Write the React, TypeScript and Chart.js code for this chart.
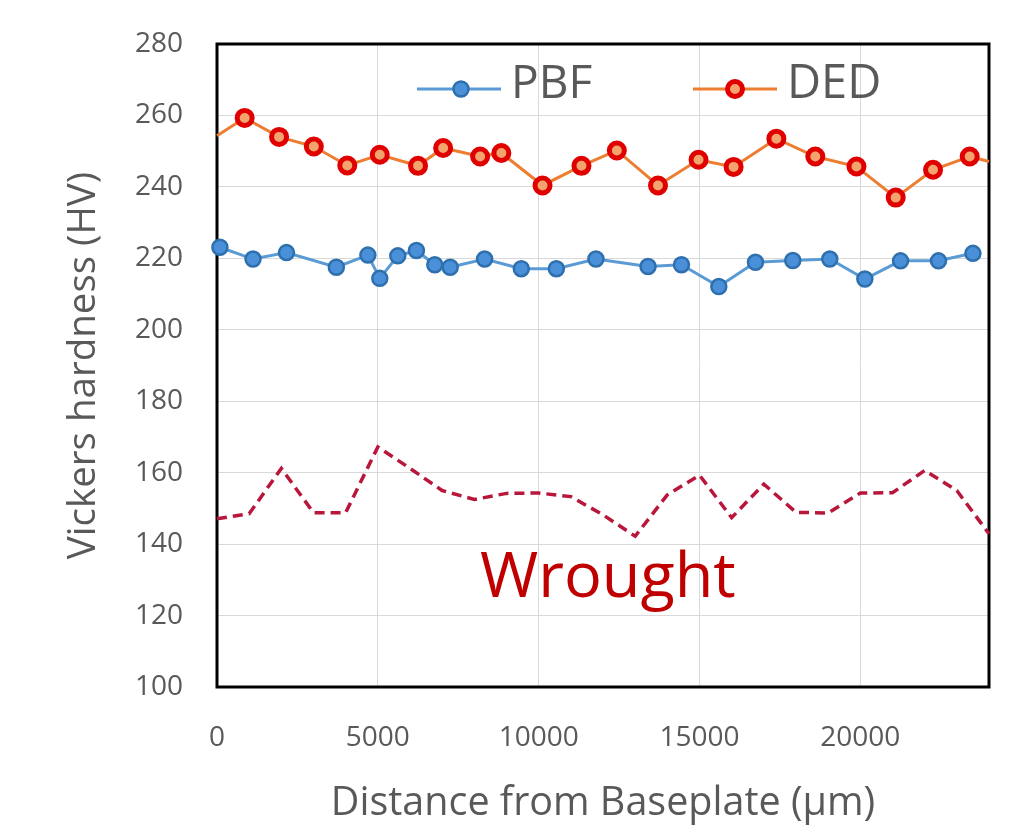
import React, { useEffect, useRef } from "react";
import { Chart, registerables } from "chart.js";

Chart.register(...registerables);

// ---- data ----
const pbfX = [90, 1120, 2160, 3710, 4690, 5060, 5620, 6200, 6770, 7250, 8320, 9460, 10550, 11780, 13400, 14440, 15600, 16740, 17900, 19050, 20140, 21250, 22430, 23500];
const pbfY = [223.1, 219.8, 221.6, 217.5, 220.9, 214.4, 220.7, 222.2, 218.2, 217.5, 219.8, 217.1, 217.1, 219.8, 217.7, 218.2, 212.1, 218.9, 219.4, 219.8, 214.2, 219.3, 219.3, 221.4];

const dedX = [0, 860, 1930, 3010, 4050, 5060, 6250, 7030, 8180, 8840, 10120, 11330, 12430, 13710, 14970, 16060, 17390, 18600, 19880, 21100, 22260, 23400, 24000];
const dedY = [254.3, 259.3, 254.0, 251.3, 246.0, 249.0, 245.9, 250.9, 248.5, 249.5, 240.4, 245.9, 250.2, 240.4, 247.6, 245.6, 253.5, 248.5, 245.7, 237.0, 244.8, 248.5, 247.1];

const wroughtX = [0, 1000, 2000, 3000, 4000, 5000, 6000, 7000, 8000, 9000, 10000, 11000, 12000, 13000, 14000, 15000, 16000, 17000, 18000, 19000, 20000, 21000, 22000, 23000, 24000];
const wroughtY = [147.1, 148.5, 161.2, 148.8, 148.8, 167.2, 161.2, 155.0, 152.5, 154.2, 154.3, 153.3, 148.2, 142.2, 153.8, 159.3, 147.4, 156.8, 148.9, 148.7, 154.3, 154.4, 160.6, 155.0, 142.9];

const xTickValues = [0, 5000, 10000, 15000, 20000];
const yMin = 100;
const yMax = 280;
const yStep = 20;
const xMin = 0;
const xMax = 24000;

const seriesNames = ["PBF", "DED", "Wrought"];
const xTitle = "Distance from Baseplate (µm)";
const yTitle = "Vickers hardness (HV)";
const annotationText = "Wrought";

const FONT = "'Open Sans', 'Noto Sans', sans-serif";
const GRAY = "#595959";

const PBF_LINE = "#5b9bd5";
const PBF_FILL = "#4a90d9";
const PBF_EDGE = "#2e6fae";
const DED_LINE = "#ed7d31";
const DED_FILL = "#f2a36e";
const DED_EDGE = "#e00000";
const WROUGHT = "#b8163a";

const toPoints = (xs: number[], ys: number[]) => xs.map((x, i) => ({ x, y: ys[i] }));

const framePlugin = {
  id: "frame",
  beforeDatasetsDraw(chart: any) {
    const { ctx, chartArea: a } = chart;
    ctx.save();
    ctx.strokeStyle = "#000000";
    ctx.lineWidth = 3;
    ctx.strokeRect(a.left, a.top, a.right - a.left, a.bottom - a.top);
    ctx.restore();
  },
};

const overlayPlugin = {
  id: "overlay",
  afterDraw(chart: any) {
    const { ctx } = chart;
    ctx.save();
    // legend
    const items = [
      { name: seriesNames[0], x0: 417, x1: 501, mx: 461, tx: 511, line: PBF_LINE, fill: PBF_FILL, edge: PBF_EDGE, r: 7.5, bw: 2.5, size: 46 },
      { name: seriesNames[1], x0: 693, x1: 777, mx: 735, tx: 787, line: DED_LINE, fill: DED_FILL, edge: DED_EDGE, r: 7.5, bw: 5, size: 47 },
    ];
    const ly = 89;
    for (const it of items) {
      ctx.strokeStyle = it.line;
      ctx.lineWidth = 3;
      ctx.beginPath();
      ctx.moveTo(it.x0, ly);
      ctx.lineTo(it.x1, ly);
      ctx.stroke();
      ctx.beginPath();
      ctx.arc(it.mx, ly, it.r, 0, Math.PI * 2);
      ctx.fillStyle = it.fill;
      ctx.fill();
      ctx.lineWidth = it.bw;
      ctx.strokeStyle = it.edge;
      ctx.stroke();
      ctx.fillStyle = GRAY;
      ctx.font = `${it.size}px ${FONT}`;
      ctx.textBaseline = "alphabetic";
      ctx.textAlign = "left";
      ctx.fillText(it.name, it.tx, 98);
    }
    // Wrought label
    ctx.fillStyle = "#c00000";
    ctx.font = `63px ${FONT}`;
    ctx.textAlign = "left";
    ctx.textBaseline = "alphabetic";
    ctx.fillText(annotationText, 480, 597);
    ctx.restore();
  },
};

export default function App() {
  const ref = useRef<HTMLCanvasElement | null>(null);

  useEffect(() => {
    if (!ref.current) return;
    const chart = new Chart(ref.current, {
      type: "line",
      data: {
        datasets: [
          {
            label: seriesNames[0],
            data: toPoints(pbfX, pbfY),
            borderColor: PBF_LINE,
            borderWidth: 3,
            backgroundColor: PBF_FILL,
            pointBackgroundColor: PBF_FILL,
            pointBorderColor: PBF_EDGE,
            pointBorderWidth: 2.5,
            pointRadius: 7.5,
            tension: 0,
            clip: false,
          },
          {
            label: seriesNames[1],
            data: toPoints(dedX, dedY),
            borderColor: DED_LINE,
            borderWidth: 3,
            backgroundColor: DED_FILL,
            pointBackgroundColor: DED_FILL,
            pointBorderColor: DED_EDGE,
            pointBorderWidth: 5,
            pointRadius: dedX.map((_, i) => (i === 0 || i === dedX.length - 1 ? 0 : 7.5)),
            tension: 0,
            clip: false,
          },
          {
            label: seriesNames[2],
            data: toPoints(wroughtX, wroughtY),
            borderColor: WROUGHT,
            borderWidth: 3.5,
            borderDash: [10, 6],
            pointRadius: 0,
            tension: 0,
            clip: false,
          },
        ],
      },
      options: {
        responsive: false,
        animation: false,
        devicePixelRatio: 1,
        layout: { padding: { top: 44, right: 35, left: 0, bottom: 0 } },
        plugins: {
          legend: { display: false },
          tooltip: { enabled: false },
        },
        scales: {
          x: {
            type: "linear",
            min: xMin,
            max: xMax,
            afterFit(scale: any) {
              scale.height = 141;
            },
            afterBuildTicks(scale: any) {
              scale.ticks = xTickValues.map((v) => ({ value: v }));
            },
            grid: { color: "#d9d9d9", lineWidth: 1, drawTicks: false },
            border: { display: false },
            ticks: {
              color: GRAY,
              font: { family: FONT, size: 28 },
              padding: 34,
              maxRotation: 0,
              autoSkip: false,
              callback: (v: any) => String(v),
            },
            title: {
              display: true,
              text: xTitle,
              color: GRAY,
              font: { family: FONT, size: 39.5 },
              padding: { top: 0, bottom: 1 },
            },
          },
          y: {
            type: "linear",
            min: yMin,
            max: yMax,
            afterFit(scale: any) {
              scale.width = 217;
              scale.paddingTop = 0;
              scale.paddingBottom = 0;
            },
            grid: { color: "#d9d9d9", lineWidth: 1, drawTicks: false },
            border: { display: false },
            ticks: {
              stepSize: yStep,
              color: GRAY,
              font: { family: FONT, size: 28 },
              padding: 34,
            },
            title: {
              display: true,
              text: yTitle,
              color: GRAY,
              font: { family: FONT, size: 38.5 },
              padding: { top: 61, bottom: 0 },
            },
          },
        },
      },
      plugins: [framePlugin, overlayPlugin],
    });
    return () => chart.destroy();
  }, []);

  return (
    <div style={{ position: "fixed", left: 0, top: 0, width: 1024, height: 828, background: "#ffffff" }}>
      <canvas ref={ref} width={1024} height={828} style={{ display: "block" }} />
    </div>
  );
}
